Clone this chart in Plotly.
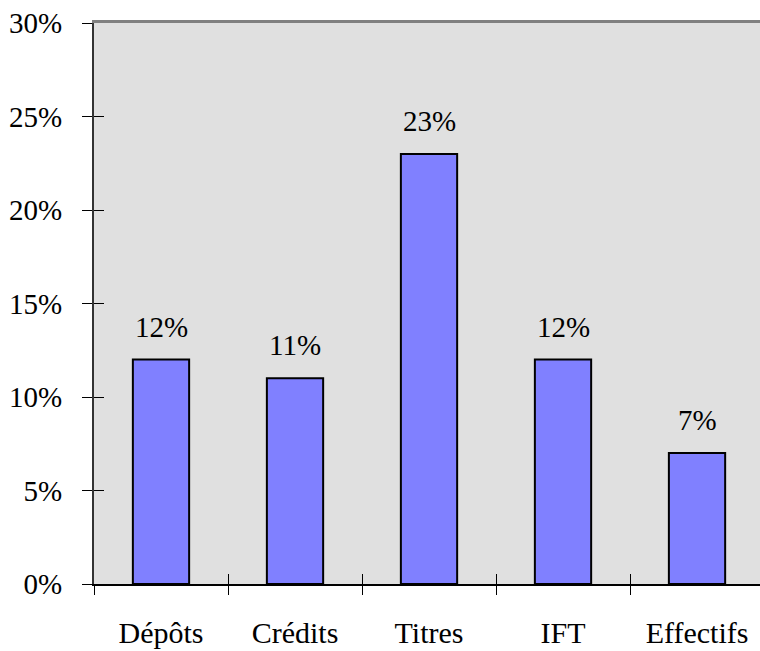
import plotly.graph_objects as go

categories = ["Dépôts", "Crédits", "Titres", "IFT", "Effectifs"]
values = [12, 11, 23, 12, 7]
labels = ["12%", "11%", "23%", "12%", "7%"]
y_ticks = [0, 5, 10, 15, 20, 25, 30]
y_ticktext = ["0%", "5%", "10%", "15%", "20%", "25%", "30%"]

FONT = "Liberation Serif"
FS = 29
FS_CAT = 30
xpos = list(range(len(categories)))
bounds = [i - 0.5 for i in range(len(categories))]
xrange_ = [-0.5, 4.47]

fig = go.Figure()
fig.add_trace(go.Bar(
    x=xpos, y=values, width=0.42,
    marker=dict(color="#8080FF", line=dict(color="black", width=2)),
    hoverinfo="skip", showlegend=False,
))

for x, v, t in zip(xpos, values, labels):
    fig.add_annotation(x=x, y=v, text=t, showarrow=False, yanchor="bottom",
                       yshift=15, font=dict(family=FONT, size=FS, color="black"))

common = dict(automargin=False, showgrid=False, zeroline=False)
fig.update_layout(
    width=760, height=651,
    margin=dict(l=94, r=0, t=23, b=67, autoexpand=False),
    paper_bgcolor="white", plot_bgcolor="#E0E0E0",
    font=dict(family=FONT, size=FS, color="black"),
    xaxis=dict(range=xrange_, tickvals=xpos, ticktext=categories, ticks="",
               showline=True, linecolor="black", linewidth=2,
               ticklabelstandoff=21, ticklabeloverflow="allow",
               tickfont=dict(family=FONT, size=FS_CAT), **common),
    xaxis2=dict(range=xrange_, overlaying="x", tickvals=bounds, ticks="outside",
                ticklen=10, tickcolor="black", tickwidth=1, showticklabels=False,
                showline=False, **common),
    xaxis3=dict(range=xrange_, overlaying="x", tickvals=bounds, ticks="inside",
                ticklen=10, tickcolor="black", tickwidth=1, showticklabels=False,
                showline=False, **common),
    xaxis4=dict(range=xrange_, overlaying="x", side="top", showticklabels=False,
                ticks="", showline=True, linecolor="#808080", linewidth=3, **common),
    yaxis=dict(range=[0, 30], tickvals=y_ticks, ticktext=y_ticktext,
               ticks="outside", ticklen=10, tickcolor="black", tickwidth=1,
               showline=True, linecolor="#333333", linewidth=2,
               ticklabelstandoff=14, ticklabeloverflow="allow",
               tickfont=dict(family=FONT, size=FS), **common),
    yaxis2=dict(range=[0, 30], overlaying="y", tickvals=y_ticks, ticks="inside",
                ticklen=10, tickcolor="black", tickwidth=1, showticklabels=False,
                showline=False, **common),
)
for xa, ya in [("x2", "y"), ("x3", "y"), ("x4", "y"), ("x", "y2")]:
    fig.add_trace(go.Scatter(x=[None], y=[None], xaxis=xa, yaxis=ya,
                             showlegend=False, hoverinfo="skip"))

fig.write_html(
    "out.html",
    config={"displayModeBar": False},
    post_script="document.body.style.margin='0px';document.body.style.overflow='hidden';",
)
